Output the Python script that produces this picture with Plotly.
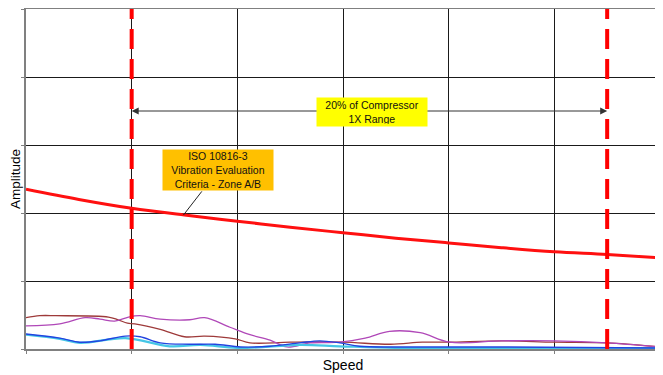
import plotly.graph_objects as go

# ---- data ----
iso_x = [0, 0.5, 1, 1.5, 2, 2.5, 3, 3.5, 4, 4.5, 5, 5.5, 6]
iso_y = [2.35, 2.20, 2.07, 1.97, 1.88, 1.79, 1.71, 1.63, 1.56, 1.49, 1.43, 1.39, 1.34]

brown_x = [0, 0.13, 0.28, 0.78, 0.87, 0.96, 1.03, 1.27, 1.5, 1.69, 1.98, 2.12, 2.5, 3.0, 3.45, 3.75, 4.0, 4.5, 5.0, 5.5, 6.0]
brown_y = [0.46, 0.49, 0.49, 0.47, 0.43, 0.38, 0.37, 0.29, 0.18, 0.19, 0.15, 0.09, 0.10, 0.10, 0.07, 0.10, 0.10, 0.12, 0.10, 0.09, 0.03]

purple_x = [0, 0.32, 0.56, 0.70, 0.84, 0.97, 1.08, 1.27, 1.55, 1.69, 1.93, 2.12, 2.31, 2.47, 2.69, 2.97, 3.21, 3.44, 3.73, 4.01, 4.5, 5.0, 5.5, 6.0]
purple_y = [0.34, 0.37, 0.46, 0.44, 0.41, 0.47, 0.49, 0.44, 0.43, 0.46, 0.32, 0.21, 0.13, 0.03, 0.09, 0.10, 0.16, 0.26, 0.24, 0.10, 0.12, 0.12, 0.09, 0.03]

blue_x = [0, 0.32, 0.51, 0.70, 0.94, 1.08, 1.27, 1.55, 1.79, 2.03, 2.31, 2.59, 2.78, 2.97, 3.16, 3.54, 4.5, 6.0]
blue_y = [0.22, 0.16, 0.10, 0.12, 0.19, 0.18, 0.09, 0.07, 0.07, 0.03, 0.04, 0.09, 0.12, 0.09, 0.04, 0.03, 0.03, 0.015]

cyan_x = [0, 0.32, 0.51, 0.94, 1.36, 1.65, 2.03, 2.59, 2.97, 3.54, 4.5, 6.0]
cyan_y = [0.21, 0.15, 0.09, 0.16, 0.04, 0.06, 0.015, 0.06, 0.04, 0.015, 0.015, 0.015]

range_lo = 1.0
range_hi = 5.5
range_level = 3.5
y_max = 5
x_max = 6

range_label = "20% of Compressor<br>1X Range"
iso_label = "ISO 10816-3<br>Vibration Evaluation<br>Criteria - Zone A/B"
iso_label_pos = (1.82, 2.63)
iso_leader_tail = (1.675, 2.34)
iso_leader_head = (1.49, 1.97)
range_label_pos = (3.27, 3.48)

FONT = "Liberation Sans, Arial, sans-serif"

fig = go.Figure()

for xs, ys, col, w in [
    (brown_x, brown_y, "#9E3A3A", 1.3),
    (purple_x, purple_y, "#B048B8", 1.3),
    (cyan_x, cyan_y, "#45C6E6", 2.2),
    (blue_x, blue_y, "#2244E0", 1.4),
]:
    fig.add_trace(go.Scatter(x=xs, y=ys, mode="lines", line=dict(color=col, width=w, shape="spline", smoothing=1.0),
                             hoverinfo="skip", showlegend=False))

fig.add_trace(go.Scatter(x=iso_x, y=iso_y, mode="lines", line=dict(color="#FF1010", width=3, shape="spline"),
                         showlegend=False))

for xv in (range_lo, range_hi):
    fig.add_trace(go.Scatter(x=[xv, xv], y=[0, y_max], mode="lines",
                             line=dict(color="#FF0000", width=4, dash="20px,10px"), showlegend=False))

# range arrows
for xv in (range_lo, range_hi):
    fig.add_annotation(x=xv, y=range_level, ax=range_label_pos[0], ay=range_level, xref="x", yref="y",
                       axref="x", ayref="y", text="", showarrow=True, arrowhead=2, arrowsize=1.4,
                       arrowwidth=1, arrowcolor="#333333")
fig.add_annotation(x=range_label_pos[0], y=range_label_pos[1], xref="x", yref="y", text=range_label,
                   showarrow=False, bgcolor="#FFFF00", width=106, height=24, borderpad=2,
                   font=dict(family=FONT, size=10.5, color="#111111"))

# ISO leader + label
fig.add_annotation(x=iso_leader_head[0], y=iso_leader_head[1], ax=iso_leader_tail[0], ay=iso_leader_tail[1],
                   xref="x", yref="y", axref="x", ayref="y", text="", showarrow=True, arrowhead=0,
                   arrowwidth=1, arrowcolor="#222222")
fig.add_annotation(x=iso_label_pos[0], y=iso_label_pos[1], xref="x", yref="y", text=iso_label,
                   showarrow=False, bgcolor="#FFC000", width=106, height=36, borderpad=2,
                   font=dict(family=FONT, size=10.5, color="#111111"))

axis_common = dict(showgrid=True, gridcolor="#1a1a1a", gridwidth=1, zeroline=False,
                   showline=True, linecolor="#808080", linewidth=2, mirror=True,
                   ticks="outside", ticklen=3, tickcolor="#808080", showticklabels=False,
                   automargin=False)

fig.update_xaxes(range=[0, x_max], dtick=1, tick0=0,
                 title=dict(text="Speed", font=dict(family=FONT, size=14, color="#000"), standoff=7),
                 **axis_common)
fig.update_yaxes(range=[0, y_max], dtick=1, tick0=0,
                 title=dict(text="Amplitude", font=dict(family=FONT, size=13.5, color="#000"), standoff=0),
                 **axis_common)

# the page body has an 8px margin, so the figure is sized/offset to compensate
fig.update_layout(width=655, height=367, margin=dict(l=18, r=3, t=1, b=26),
                  plot_bgcolor="white", paper_bgcolor="white", showlegend=False)

fig.write_html("out.html")
